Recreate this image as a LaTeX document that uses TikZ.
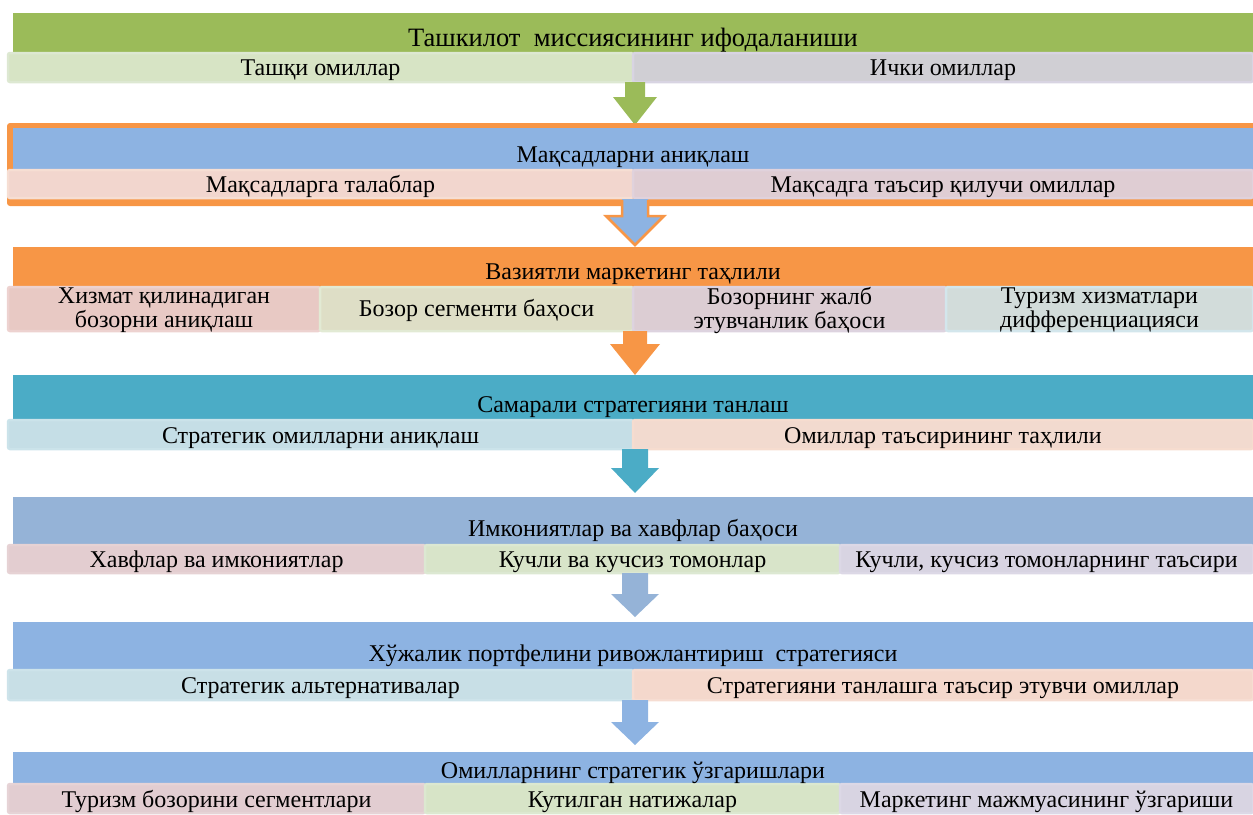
\documentclass[tikz,border=0pt]{standalone}
\usepackage{fontspec}
\setmainfont{Liberation Serif}
\definecolor{hgreen}{HTML}{9BBB59}
\definecolor{horange}{HTML}{F79646}
\definecolor{hblue}{HTML}{8DB3E2}
\definecolor{hteal}{HTML}{4BACC6}
\definecolor{hsteel}{HTML}{95B3D7}
% cell fills / borders
\definecolor{gA}{HTML}{D7E4C5}\definecolor{gAb}{HTML}{DDE8D2}
\definecolor{lA}{HTML}{D0CFD4}\definecolor{lAb}{HTML}{D8D4E2}
\definecolor{pA}{HTML}{F2D6CE}\definecolor{pAb}{HTML}{F6DED3}
\definecolor{mA}{HTML}{DFCDD3}\definecolor{mAb}{HTML}{E0D2DC}
\definecolor{rB}{HTML}{E8C9C4}\definecolor{rBb}{HTML}{EDD2D0}
\definecolor{oB}{HTML}{DEDEC6}\definecolor{oBb}{HTML}{E2EAD4}
\definecolor{mB}{HTML}{DCCDD3}\definecolor{mBb}{HTML}{DDD3DF}
\definecolor{sB}{HTML}{D2DCDA}\definecolor{sBb}{HTML}{D3E6EC}
\definecolor{bC}{HTML}{C5DEE6}\definecolor{bCb}{HTML}{CBE3EA}
\definecolor{pC}{HTML}{F2DACF}\definecolor{pCb}{HTML}{F6DCCF}
\definecolor{rD}{HTML}{E3CDD0}\definecolor{rDb}{HTML}{E6D2D4}
\definecolor{gD}{HTML}{D8E4C9}\definecolor{gDb}{HTML}{DCE8D2}
\definecolor{lD}{HTML}{D8D4E2}\definecolor{lDb}{HTML}{DCD8E6}
\definecolor{bE}{HTML}{C8DFE6}\definecolor{bEb}{HTML}{CDE3EA}
\definecolor{pE}{HTML}{F4D8CC}\definecolor{pEb}{HTML}{F6DDD2}
\definecolor{rF}{HTML}{E2CDD1}\definecolor{rFb}{HTML}{E6D3D6}
\definecolor{gF}{HTML}{D7E4C7}\definecolor{gFb}{HTML}{DCE8D0}
\definecolor{lF}{HTML}{D8D4E2}\definecolor{lFb}{HTML}{DCD8E6}

\tikzset{
  boxbase/.style={rectangle, inner sep=0pt, outer sep=0pt},
  hdr/.style={boxbase, draw=none},
  cellbox/.style={boxbase, rounded corners=2pt, line width=2.5pt},
  txt/.style={inner sep=0pt, font=\fontsize{24}{24}\selectfont, text=black},
  bigtxt/.style={txt, font=\fontsize{26.5}{28}\selectfont},
}
% \boxnode{name}{x1}{y1}{x2}{y2}{style}
\newcommand{\boxnode}[6]{%
  \node[#6, minimum width={(#4-#2)*1pt}, minimum height={(#5-#3)*1pt}]
    (#1) at ({(#2+#4)/2},{(#3+#5)/2}) {};}
% \blockarrow{fill}{top}{headstart}{tip}{shafthalf}{headhalf}
\newcommand{\blockarrow}[6]{%
  \fill[#1] ({635-#5},#2) -- ({635+#5},#2) -- ({635+#5},#3) -- ({635+#6},#3)
    -- (635,#4) -- ({635-#6},#3) -- ({635-#5},#3) -- cycle;}

\begin{document}
\begin{tikzpicture}[x=1pt, y=-1pt]
\useasboundingbox (0,0) rectangle (1253,814);

% ---------- Block 1 ----------
\boxnode{h1}{13}{13}{1253}{53}{hdr, fill=hgreen}
\boxnode{c11}{8}{53}{633}{82}{cellbox, fill=gA, draw=gAb}
\boxnode{c12}{633}{53}{1253}{82}{cellbox, fill=lA, draw=lAb}
\node[bigtxt, anchor=base] (t1) at ([yshift=7pt]h1.south) {Ташкилот\ \ миссиясининг ифодаланиши};
\node[txt, anchor=base] (t11) at ([yshift=7pt]c11.south) {Ташқи омиллар};
\node[txt, anchor=base] (t12) at ([yshift=7pt]c12.south) {Ички омиллар};

\blockarrow{hgreen}{82}{97}{125}{10}{22}

% ---------- Block 2 ----------
\boxnode{f2}{7}{123}{1256}{206}{boxbase, fill=horange, rounded corners=3pt}
\boxnode{h2}{13}{128}{1253}{170}{hdr, fill=hblue}
\boxnode{c21}{8}{170}{633}{198}{cellbox, fill=pA, draw=pAb}
\boxnode{c22}{633}{170}{1253}{198}{cellbox, fill=mA, draw=mAb}
\node[txt, anchor=base] (t2) at ([yshift=8pt]h2.south) {Мақсадларни аниқлаш};
\node[txt, anchor=base] (t21) at ([yshift=6pt]c21.south) {Мақсадларга талаблар};
\node[txt, anchor=base] (t22) at ([yshift=6pt]c22.south) {Мақсадга таъсир қилучи омиллар};

\blockarrow{hblue}{199}{216}{244}{13}{29}
\draw[horange, line width=2.5pt, line join=miter]
  (622,200) -- (622,216) -- (606,216) -- (635,245) -- (664,216) -- (648,216) -- (648,200);

% ---------- Block 3 ----------
\boxnode{h3}{13}{247}{1253}{287}{hdr, fill=horange}
\boxnode{c31}{8}{287}{320}{331}{cellbox, fill=rB, draw=rBb}
\boxnode{c32}{320}{287}{633}{331}{cellbox, fill=oB, draw=oBb}
\boxnode{c33}{633}{287}{946}{331}{cellbox, fill=mB, draw=mBb}
\boxnode{c34}{946}{287}{1253}{331}{cellbox, fill=sB, draw=sBb}
\node[txt, anchor=base] (t3) at ([yshift=8pt]h3.south) {Вазиятли маркетинг таҳлили};
\node[txt, align=center] (t31) at ([yshift=-1pt]c31.center) {Хизмат қилинадиган\\бозорни аниқлаш};
\node[txt, anchor=base] (t32) at ([yshift=15pt]c32.south) {Бозор сегменти баҳоси};
\node[txt, align=center] (t33) at ([yshift=-1pt]c33.center) {Бозорнинг жалб\\этувчанлик баҳоси};
\node[txt, align=center] (t34) at ([yshift=-1pt]c34.center) {Туризм хизматлари\\дифференциацияси};

\blockarrow{horange}{331}{344}{375}{12}{25}

% ---------- Block 4 ----------
\boxnode{h4}{13}{375}{1253}{420}{hdr, fill=hteal}
\boxnode{c41}{8}{420}{633}{449}{cellbox, fill=bC, draw=bCb}
\boxnode{c42}{633}{420}{1253}{449}{cellbox, fill=pC, draw=pCb}
\node[txt, anchor=base] (t4) at ([yshift=8pt]h4.south) {Самарали стратегияни танлаш};
\node[txt, anchor=base] (t41) at ([yshift=6pt]c41.south) {Стратегик омилларни аниқлаш};
\node[txt, anchor=base] (t42) at ([yshift=6pt]c42.south) {Омиллар таъсирининг таҳлили};

\blockarrow{hteal}{449}{468}{493}{13}{24}

% ---------- Block 5 ----------
\boxnode{h5}{13}{497}{1253}{545}{hdr, fill=hsteel}
\boxnode{c51}{8}{545}{425}{573}{cellbox, fill=rD, draw=rDb}
\boxnode{c52}{425}{545}{840}{573}{cellbox, fill=gD, draw=gDb}
\boxnode{c53}{840}{545}{1253}{573}{cellbox, fill=lD, draw=lDb}
\node[txt, anchor=base] (t5) at ([yshift=9pt]h5.south) {Имкониятлар ва хавфлар баҳоси};
\node[txt, anchor=base] (t51) at ([yshift=6pt]c51.south) {Хавфлар ва имкониятлар};
\node[txt, anchor=base] (t52) at ([yshift=6pt]c52.south) {Кучли ва кучсиз томонлар};
\node[txt, anchor=base] (t53) at ([yshift=6pt]c53.south) {Кучли, кучсиз томонларнинг таъсири};

\blockarrow{hsteel}{573}{594}{617}{13}{24}

% ---------- Block 6 ----------
\boxnode{h6}{13}{622}{1253}{670}{hdr, fill=hblue}
\boxnode{c61}{8}{670}{633}{700}{cellbox, fill=bE, draw=bEb}
\boxnode{c62}{633}{670}{1253}{700}{cellbox, fill=pE, draw=pEb}
\node[txt, anchor=base] (t6) at ([yshift=9pt]h6.south) {Хўжалик портфелини ривожлантириш\ \ стратегияси};
\node[txt, anchor=base] (t61) at ([yshift=7pt]c61.south) {Стратегик альтернативалар};
\node[txt, anchor=base] (t62) at ([yshift=7pt]c62.south) {Стратегияни танлашга таъсир этувчи омиллар};

\blockarrow{hblue}{700}{722}{745}{13}{24}

% ---------- Block 7 ----------
\boxnode{h7}{13}{752}{1253}{784}{hdr, fill=hblue}
\boxnode{c71}{8}{784}{425}{813}{cellbox, fill=rF, draw=rFb}
\boxnode{c72}{425}{784}{840}{813}{cellbox, fill=gF, draw=gFb}
\boxnode{c73}{840}{784}{1253}{813}{cellbox, fill=lF, draw=lFb}
\node[txt, anchor=base] (t7) at ([yshift=6pt]h7.south) {Омилларнинг стратегик ўзгаришлари};
\node[txt, anchor=base] (t71) at ([yshift=6pt]c71.south) {Туризм бозорини сегментлари};
\node[txt, anchor=base] (t72) at ([yshift=6pt]c72.south) {Кутилган натижалар};
\node[txt, anchor=base] (t73) at ([yshift=6pt]c73.south) {Маркетинг мажмуасининг ўзгариши};
\end{tikzpicture}
\end{document}
